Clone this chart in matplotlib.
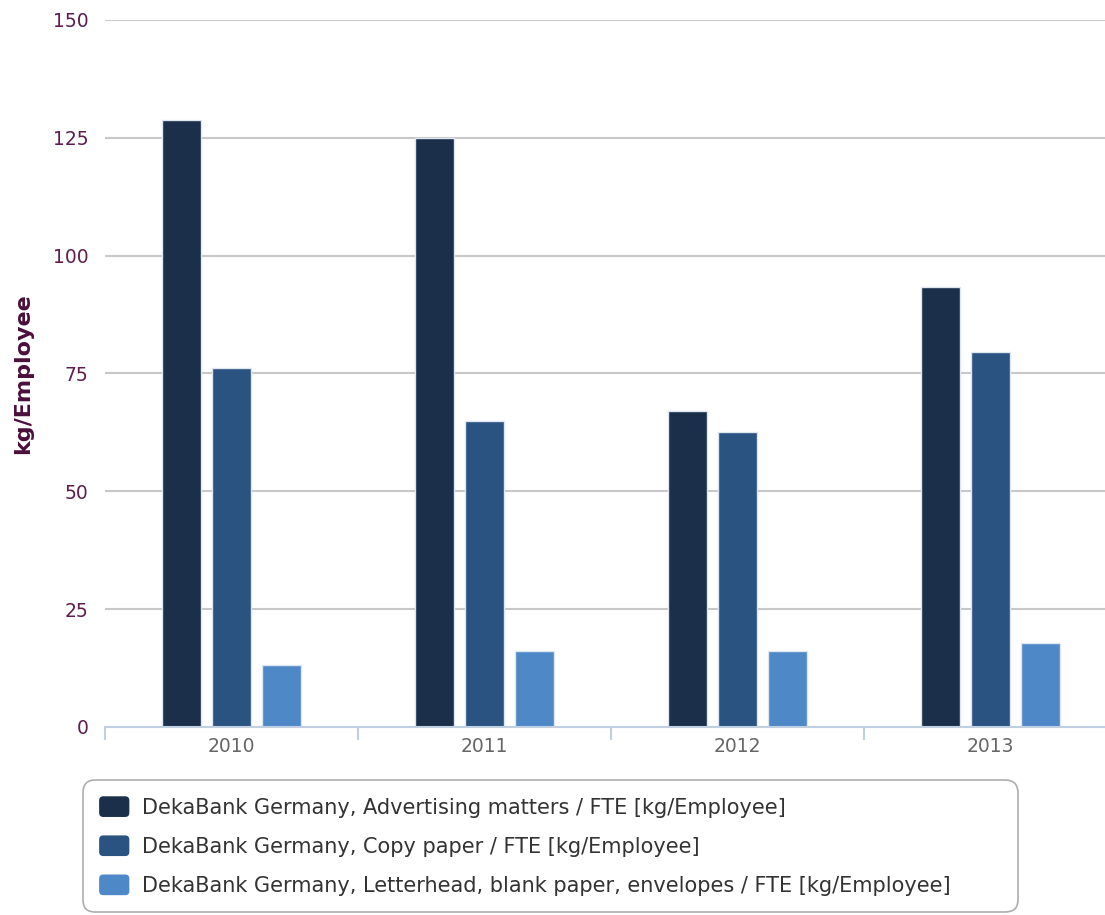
import matplotlib
matplotlib.use("Agg")
import matplotlib.pyplot as plt
from matplotlib.patches import FancyBboxPatch, Patch
from matplotlib.legend_handler import HandlerPatch
import numpy as np

years = ["2010", "2011", "2012", "2013"]
series_names = [
    "DekaBank Germany, Advertising matters / FTE [kg/Employee]",
    "DekaBank Germany, Copy paper / FTE [kg/Employee]",
    "DekaBank Germany, Letterhead, blank paper, envelopes / FTE [kg/Employee]",
]
advertising = [128.7, 125.0, 67.0, 93.4]
copy_paper = [76.2, 64.9, 62.6, 79.6]
letterhead = [13.2, 16.1, 16.1, 17.8]
y_ticks = [0, 25, 50, 75, 100, 125, 150]

colors = ["#1b2f4b", "#2a5381", "#4e88c7"]
tick_purple = "#5e1d4e"

plt.rcParams["font.family"] = ["DejaVu Sans"]

fig = plt.figure(figsize=(11.05, 9.15), dpi=100)
ax = fig.add_axes([0.095, 0.2055, 0.916, 0.7727])

x = np.arange(len(years))
offsets = [-0.197, 0.0, 0.197]
width = 0.155
for vals, off, col, name in zip([advertising, copy_paper, letterhead], offsets, colors, series_names):
    ax.bar(x + off, vals, width=width, color=col, edgecolor="#dde6f0",
           linewidth=1.0, label=name, zorder=3)

ax.set_xlim(-0.5, len(years) - 0.5)
ax.set_ylim(0, 150)
ax.set_yticks(y_ticks)
ax.set_yticklabels([str(t) for t in y_ticks], color=tick_purple, fontsize=13.5)
ax.yaxis.grid(True, color="#c8c8c8", linewidth=1.5, zorder=0)
ax.tick_params(axis="y", length=0, pad=12)

# category axis with tick marks on boundaries
ax.set_xticks(x)
ax.set_xticklabels(years, color="#666666", fontsize=13.5)
ax.set_xticks(np.arange(-0.5, len(years), 1.0), minor=True)
ax.tick_params(axis="x", which="major", length=0, pad=7)
ax.tick_params(axis="x", which="minor", length=9, color="#c0d0e0", width=1.5)

for side in ["top", "right", "left"]:
    ax.spines[side].set_visible(False)
ax.spines["bottom"].set_color("#c0d0e0")
ax.spines["bottom"].set_linewidth(1.5)
ax.spines["bottom"].set_zorder(4)

ax.set_ylabel("kg/Employee", fontsize=16, fontweight="bold", color="#4a0f3a")
ax.yaxis.set_label_coords(-0.071, 0.5)


def rounded_square(legend, orig_handle, xdescent, ydescent, width, height, fontsize):
    return FancyBboxPatch((-xdescent, -ydescent), width, height,
                          boxstyle="round,pad=0,rounding_size=3")


handles = [Patch(facecolor=c, edgecolor="none") for c in colors]
leg = fig.legend(handles, series_names, loc="upper left",
                 bbox_to_anchor=(0.075, 0.003, 0.846, 0.1445),
                 mode="expand", frameon=True, fancybox=True, fontsize=15,
                 handlelength=1.45, handleheight=1.15, handletextpad=0.6,
                 labelspacing=0.85, borderpad=0.78, borderaxespad=0,
                 labelcolor="#333333",
                 handler_map={Patch: HandlerPatch(patch_func=rounded_square)})
leg.get_frame().set_edgecolor("#999999")
leg.get_frame().set_linewidth(1.2)
leg.get_frame().set_boxstyle("round,pad=0,rounding_size=0.6")

fig.savefig("out.png", dpi=100)
